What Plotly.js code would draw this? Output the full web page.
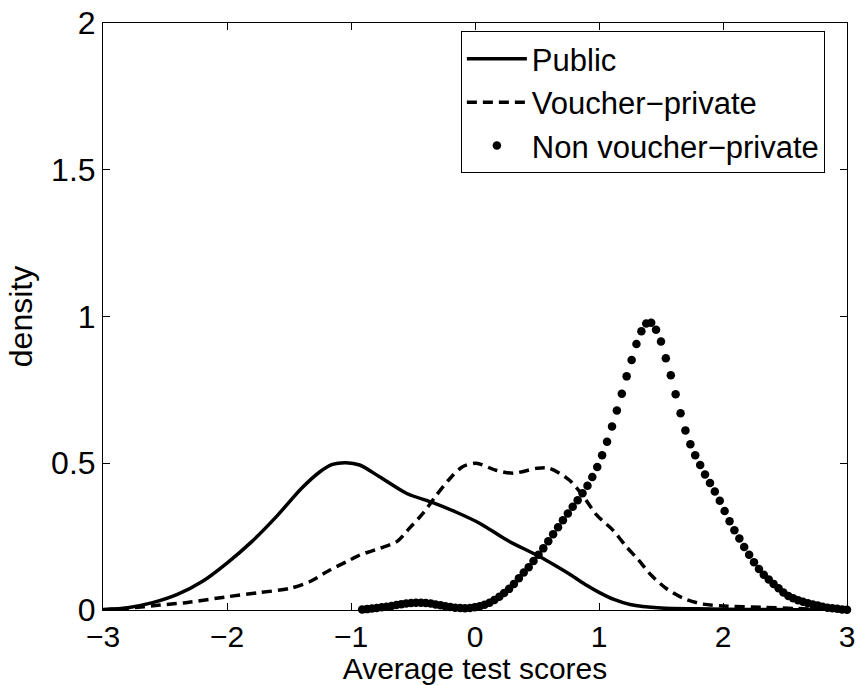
<!DOCTYPE html>
<html>
<head>
<meta charset="utf-8">
<script src="https://cdn.plot.ly/plotly-3.0.1.min.js"></script>
<style>html,body{margin:0;padding:0;background:#fff;}#chart{width:858px;height:685px;}</style>
</head>
<body>
<div id="chart"></div>
<script>
// Public (solid)
const publicX = [-3.0, -2.8, -2.6, -2.4, -2.2, -2.0, -1.8, -1.6, -1.4, -1.25, -1.15, -1.04, -0.93, -0.77, -0.55, -0.34, -0.15, 0.04, 0.25, 0.52, 0.64, 0.77, 0.90, 1.0, 1.12, 1.25, 1.5, 1.8, 2.2, 2.6, 3.0];
const publicY = [0.002, 0.008, 0.025, 0.053, 0.097, 0.160, 0.233, 0.319, 0.414, 0.471, 0.496, 0.502, 0.494, 0.454, 0.397, 0.366, 0.333, 0.295, 0.240, 0.182, 0.153, 0.120, 0.084, 0.060, 0.036, 0.019, 0.007, 0.004, 0.002, 0.001, 0.0];

// Voucher-private (dashed)
const voucherX = [-3.0, -2.8, -2.54, -2.33, -2.0, -1.74, -1.49, -1.33, -1.17, -1.02, -0.93, -0.77, -0.63, -0.53, -0.42, -0.31, -0.20, -0.10, 0.01, 0.17, 0.31, 0.50, 0.60, 0.76, 0.87, 0.98, 1.11, 1.22, 1.32, 1.42, 1.54, 1.68, 1.84, 2.0, 2.32, 2.59, 2.8, 3.0];
const voucherY = [0.0, 0.006, 0.017, 0.025, 0.045, 0.059, 0.074, 0.097, 0.136, 0.168, 0.187, 0.210, 0.233, 0.278, 0.329, 0.392, 0.449, 0.488, 0.500, 0.476, 0.466, 0.483, 0.483, 0.443, 0.390, 0.324, 0.273, 0.216, 0.170, 0.119, 0.074, 0.040, 0.020, 0.014, 0.009, 0.005, 0.002, 0.001];

// Non voucher-private (dots)
const nonVoucherX = [-0.910, -0.871, -0.831, -0.792, -0.752, -0.713, -0.673, -0.634, -0.594, -0.555,
  -0.515, -0.476, -0.436, -0.397, -0.357, -0.318, -0.278, -0.239, -0.199, -0.160,
  -0.120, -0.081, -0.041, -0.002, 0.038, 0.077, 0.117, 0.156, 0.196, 0.235,
  0.275, 0.314, 0.354, 0.393, 0.433, 0.472, 0.512, 0.551, 0.591, 0.630,
  0.670, 0.709, 0.749, 0.788, 0.828, 0.867, 0.907, 0.946, 0.986, 1.025,
  1.065, 1.105, 1.144, 1.184, 1.223, 1.263, 1.302, 1.342, 1.381, 1.421,
  1.460, 1.500, 1.539, 1.579, 1.618, 1.658, 1.697, 1.737, 1.776, 1.816,
  1.855, 1.895, 1.934, 1.974, 2.013, 2.053, 2.092, 2.132, 2.171, 2.211,
  2.250, 2.290, 2.329, 2.369, 2.408, 2.448, 2.487, 2.527, 2.566, 2.606,
  2.645, 2.685, 2.724, 2.764, 2.803, 2.843, 2.882, 2.922, 2.961, 3.000];
const nonVoucherY = [0.002, 0.003, 0.005, 0.007, 0.009, 0.011, 0.014, 0.017, 0.020, 0.022,
  0.024, 0.025, 0.025, 0.024, 0.022, 0.019, 0.016, 0.013, 0.010, 0.008,
  0.007, 0.006, 0.007, 0.009, 0.013, 0.018, 0.025, 0.034, 0.045, 0.058,
  0.072, 0.089, 0.108, 0.128, 0.146, 0.167, 0.188, 0.210, 0.234, 0.258,
  0.282, 0.306, 0.329, 0.352, 0.374, 0.398, 0.423, 0.453, 0.487, 0.527,
  0.573, 0.625, 0.680, 0.737, 0.796, 0.852, 0.906, 0.950, 0.976, 0.979,
  0.955, 0.915, 0.858, 0.800, 0.735, 0.670, 0.612, 0.565, 0.527, 0.494,
  0.462, 0.433, 0.404, 0.372, 0.337, 0.302, 0.272, 0.244, 0.215, 0.188,
  0.163, 0.140, 0.120, 0.104, 0.089, 0.074, 0.060, 0.048, 0.040, 0.033,
  0.028, 0.023, 0.019, 0.015, 0.011, 0.008, 0.006, 0.004, 0.002, 0.001];

const xTicks = [-3, -2, -1, 0, 1, 2, 3];
const yTicks = [0, 0.5, 1, 1.5, 2];
const yTickText = ["0", "0.5", "1", "1.5", "2"];

const FONT = "Liberation Sans, Arial, Helvetica, sans-serif";
const FS = 32;

const traces = [
  {x: publicX, y: publicY, name: "Public", type: "scatter", mode: "lines",
   line: {color: "#000", width: 3.5, shape: "spline", smoothing: 0.8}},
  {x: voucherX, y: voucherY, name: "Voucher\u2212private", type: "scatter", mode: "lines",
   line: {color: "#000", width: 3.5, dash: "10px,6px", shape: "spline", smoothing: 0.8}},
  {x: nonVoucherX, y: nonVoucherY, name: "Non voucher\u2212private", type: "scatter", mode: "markers",
   marker: {color: "#000", size: 8.5}, cliponaxis: false}
];

const layout = {
  width: 858, height: 685,
  margin: {l: 103, r: 11, t: 23, b: 75},
  paper_bgcolor: "#fff", plot_bgcolor: "#fff",
  font: {family: FONT, size: FS, color: "#000"},
  showlegend: true,
  legend: {x: 0.481, y: 0.986, xanchor: "left", yanchor: "top", itemwidth: 60,
           bordercolor: "#000", borderwidth: 1, bgcolor: "#fff",
           font: {family: FONT, size: 31, color: "#000"}, tracegroupgap: 0},
  xaxis: {range: [-3, 3], tickvals: xTicks, ticks: "inside", ticklen: 7, tickcolor: "#000",
          showline: true, linecolor: "#000", linewidth: 1, mirror: "ticks",
          showgrid: false, zeroline: false, tickfont: {family: FONT, size: 30},
          ticklabelstandoff: 0,
          title: {text: "Average test scores", font: {family: FONT, size: 30}, standoff: 8}},
  yaxis: {range: [0, 2], tickvals: yTicks, ticktext: yTickText, ticks: "inside", ticklen: 7, tickcolor: "#000",
          showline: true, linecolor: "#000", linewidth: 1, mirror: "ticks",
          showgrid: false, zeroline: false, tickfont: {family: FONT, size: FS},
          title: {text: "density", font: {family: FONT, size: FS}, standoff: 8}}
};

Plotly.newPlot("chart", traces, layout, {displayModeBar: false, staticPlot: true});
</script>
</body>
</html>
